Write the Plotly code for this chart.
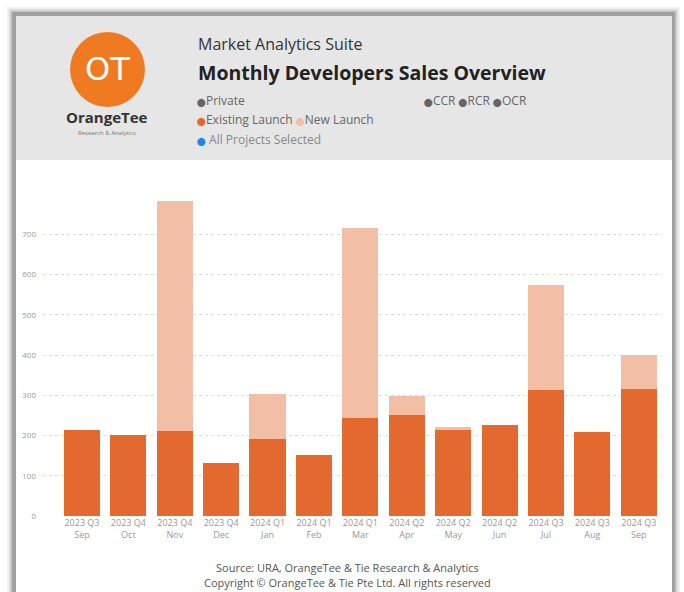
import plotly.graph_objects as go

# ---- data ----
quarters = ["2023 Q3", "2023 Q4", "2023 Q4", "2023 Q4", "2024 Q1", "2024 Q1", "2024 Q1",
            "2024 Q2", "2024 Q2", "2024 Q2", "2024 Q3", "2024 Q3", "2024 Q3"]
months = ["Sep", "Oct", "Nov", "Dec", "Jan", "Feb", "Mar", "Apr", "May", "Jun", "Jul", "Aug", "Sep"]
existing_launch = [213, 201, 211, 132, 191, 151, 243, 251, 216, 226, 313, 209, 315]
new_launch = [0, 0, 571, 0, 112, 0, 472, 47, 4, 0, 260, 0, 85]
y_ticks = [0, 100, 200, 300, 400, 500, 600, 700]

xpos = list(range(len(months)))
ticktext = [f"{q}<br>{m}" for q, m in zip(quarters, months)]

EXIST = "#E4692F"
NEW = "#F2BEA5"

# pixel geometry of plot area
W, H = 684, 592
L, R, T, B = 43, 662, 194, 516
PW, PH = R - L, B - T


def px(x):
    return (x - L) / PW


def py(y):
    return (B - y) / PH


fig = go.Figure()
fig.add_trace(go.Bar(x=xpos, y=existing_launch, name="Existing Launch", marker_color=EXIST,
                     marker_line_width=0, width=0.78))
fig.add_trace(go.Bar(x=xpos, y=new_launch, name="New Launch", marker_color=NEW,
                     marker_line_width=0, width=0.78))

shapes = []
# card shadow
for i, op in enumerate([0.05, 0.08, 0.12, 0.18]):
    d = 7 - i * 1.7
    shapes.append(dict(type="rect", xref="paper", yref="paper", layer="below",
                       x0=px(14 - d), x1=px(673 + d), y0=py(14 - d), y1=py(600),
                       line_width=0, fillcolor=f"rgba(0,0,0,{op})"))
# card
shapes.append(dict(type="rect", xref="paper", yref="paper", layer="below",
                   x0=px(16), x1=px(672), y0=py(16), y1=py(600),
                   line_width=0, fillcolor="white"))
# header
shapes.append(dict(type="rect", xref="paper", yref="paper", layer="below",
                   x0=px(16), x1=px(672), y0=py(16), y1=py(160),
                   line_width=0, fillcolor="#E6E6E6"))
# logo circle
shapes.append(dict(type="circle", xref="paper", yref="paper", layer="below",
                   x0=px(70), x1=px(145), y0=py(32), y1=py(107),
                   line_width=0, fillcolor="#EF7A22"))

FONT = "Segoe UI, Open Sans, Noto Sans, sans-serif"
ann = []


def text(x, y, s, size, color, anchor="left", bold=False, family=FONT):
    ann.append(dict(x=px(x), y=py(y), xref="paper", yref="paper", text=(f"<b>{s}</b>" if bold else s),
                    showarrow=False, xanchor=anchor, yanchor="middle",
                    font=dict(size=size, color=color, family=family)))


def dot(c):
    return f"<span style='color:{c};font-family:DejaVu Sans;font-size:8px'>⬤</span>"


text(107, 69, "OT", 32, "white", "center", family="DejaVu Sans")
text(107, 117, "<b>OrangeTee</b>", 15, "#333", "center")
text(107, 133, "Research &amp; Analytics", 6, "#777", "center")

text(196, 44, "Market Analytics Suite", 16, "#333")
text(196, 72, "Monthly Developers Sales Overview", 19.5, "#222", bold=True)

text(195, 101, f"{dot('#666')}Private", 12, "#666")
text(195, 120, f"{dot(EXIST)}Existing Launch {dot(NEW)}New Launch", 12, "#666")
text(195, 139, f"{dot('#1E88E5')} All Projects Selected", 12, "#888")
text(422, 101, f"{dot('#666')}CCR {dot('#666')}RCR {dot('#666')}OCR", 12, "#666")

text(347, 567, "Source: URA, OrangeTee &amp; Tie Research &amp; Analytics", 11, "#555", "center")
text(347, 582, "Copyright © OrangeTee &amp; Tie Pte Ltd. All rights reserved", 11, "#555", "center")

fig.update_layout(
    width=W, height=H,
    margin=dict(l=L, r=W - R, t=T, b=H - B),
    barmode="stack",
    paper_bgcolor="white", plot_bgcolor="rgba(0,0,0,0)",
    showlegend=False,
    shapes=shapes, annotations=ann,
    font=dict(family=FONT),
    xaxis=dict(tickmode="array", tickvals=xpos, ticktext=ticktext, range=[-0.84, 12.5],
               tickfont=dict(size=9, color="#999"), showgrid=False, zeroline=False,
               showline=False, ticks=""),
    yaxis=dict(range=[0, 800], tickvals=y_ticks, tickfont=dict(size=8, color="#999"),
               showgrid=True, gridcolor="#DDDDDD", griddash="dot", gridwidth=1,
               zeroline=False, showline=False, ticklabelstandoff=6),
)

fig.write_html("out.html")
